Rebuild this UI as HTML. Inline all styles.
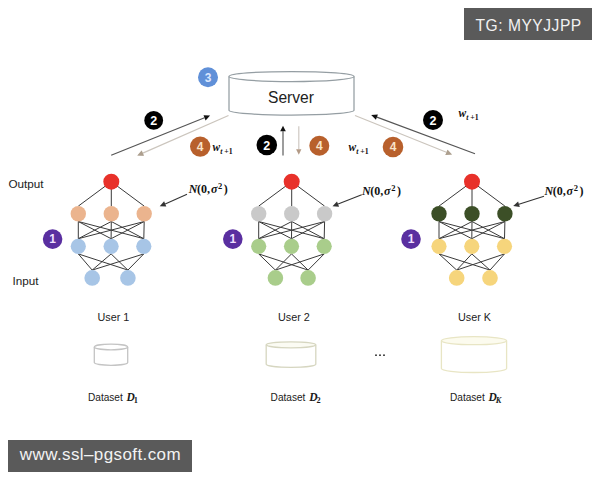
<!DOCTYPE html>
<html><head><meta charset="utf-8"><style>
html,body{margin:0;padding:0;background:#fff;}
body{width:600px;height:480px;position:relative;overflow:hidden;font-family:"Liberation Sans",sans-serif;}
svg{position:absolute;left:0;top:0;}

.wm{position:absolute;background:#5a5a5a;color:#f2f2f2;font-family:"Liberation Sans",sans-serif;white-space:nowrap;}
</style></head><body>
<svg width="600" height="480" viewBox="0 0 600 480" font-family="Liberation Sans">
<path d="M229.0,76.5 L229.0,110.2 A62.5,5.0 0 0 0 354.0,110.2 L354.0,76.5" fill="#fff" stroke="#959ea3" stroke-width="1.25"/><ellipse cx="291.5" cy="76.5" rx="62.5" ry="5.0" fill="#fff" stroke="#959ea3" stroke-width="1.25"/><line x1="111.2" y1="155.3" x2="204.5" y2="117.8" stroke="#555" stroke-width="1.2"/><polygon points="210.1,115.6 205.6,120.4 203.5,115.2" fill="#111"/><line x1="228.5" y1="115.5" x2="142.8" y2="153.1" stroke="#cbc5bd" stroke-width="1.2"/><polygon points="137.3,155.5 141.7,150.5 143.9,155.7" fill="#cbc5bd"/><polygon points="137.3,155.5 141.7,150.5 143.9,155.7" fill="#ad9f8e"/><line x1="283.0" y1="155.5" x2="283.0" y2="131.3" stroke="#7c7c7c" stroke-width="1.5"/><polygon points="283.0,125.8 285.8,131.3 280.2,131.3" fill="#111"/><line x1="298.8" y1="126.2" x2="298.8" y2="149.3" stroke="#cfc8c2" stroke-width="1.2"/><polygon points="298.8,154.8 296.1,149.3 301.4,149.3" fill="#b39a86"/><line x1="475.0" y1="153.8" x2="376.9" y2="117.1" stroke="#555" stroke-width="1.2"/><polygon points="371.2,115.0 377.9,114.5 375.9,119.7" fill="#111"/><line x1="355.0" y1="115.5" x2="446.4" y2="152.3" stroke="#cbc5bd" stroke-width="1.2"/><polygon points="452.0,154.5 445.4,154.9 447.5,149.7" fill="#cbc5bd"/><polygon points="452.0,154.5 445.4,154.9 447.5,149.7" fill="#ad9f8e"/><line x1="111.3" y1="181.7" x2="78.3" y2="206.1" stroke="#3a3a3a" stroke-width="1"/><line x1="111.3" y1="181.7" x2="111.3" y2="206.1" stroke="#3a3a3a" stroke-width="1"/><line x1="111.3" y1="181.7" x2="144.2" y2="206.1" stroke="#3a3a3a" stroke-width="1"/><line x1="78.3" y1="221.5" x2="78.3" y2="238.7" stroke="#3a3a3a" stroke-width="1"/><line x1="78.3" y1="221.5" x2="111.1" y2="238.7" stroke="#3a3a3a" stroke-width="1"/><line x1="78.3" y1="221.5" x2="143.8" y2="238.7" stroke="#3a3a3a" stroke-width="1"/><line x1="111.3" y1="221.5" x2="78.3" y2="238.7" stroke="#3a3a3a" stroke-width="1"/><line x1="111.3" y1="221.5" x2="111.1" y2="238.7" stroke="#3a3a3a" stroke-width="1"/><line x1="111.3" y1="221.5" x2="143.8" y2="238.7" stroke="#3a3a3a" stroke-width="1"/><line x1="144.2" y1="221.5" x2="78.3" y2="238.7" stroke="#3a3a3a" stroke-width="1"/><line x1="144.2" y1="221.5" x2="111.1" y2="238.7" stroke="#3a3a3a" stroke-width="1"/><line x1="144.2" y1="221.5" x2="143.8" y2="238.7" stroke="#3a3a3a" stroke-width="1"/><line x1="78.3" y1="253.9" x2="92.2" y2="270.1" stroke="#3a3a3a" stroke-width="1"/><line x1="78.3" y1="253.9" x2="127.9" y2="270.1" stroke="#3a3a3a" stroke-width="1"/><line x1="111.1" y1="253.9" x2="92.2" y2="270.1" stroke="#3a3a3a" stroke-width="1"/><line x1="111.1" y1="253.9" x2="127.9" y2="270.1" stroke="#3a3a3a" stroke-width="1"/><line x1="143.8" y1="253.9" x2="92.2" y2="270.1" stroke="#3a3a3a" stroke-width="1"/><line x1="143.8" y1="253.9" x2="127.9" y2="270.1" stroke="#3a3a3a" stroke-width="1"/><circle cx="111.3" cy="181.7" r="8.0" fill="#e8312a"/><circle cx="78.3" cy="213.8" r="7.7" fill="#ebb48e"/><circle cx="111.3" cy="213.8" r="7.7" fill="#ebb48e"/><circle cx="144.2" cy="213.8" r="7.7" fill="#ebb48e"/><circle cx="78.3" cy="246.3" r="7.6" fill="#a7c5e6"/><circle cx="111.1" cy="246.3" r="7.6" fill="#a7c5e6"/><circle cx="143.8" cy="246.3" r="7.6" fill="#a7c5e6"/><circle cx="92.2" cy="277.9" r="7.8" fill="#a7c5e6"/><circle cx="127.9" cy="277.9" r="7.8" fill="#a7c5e6"/><line x1="291.7" y1="181.7" x2="258.7" y2="206.1" stroke="#3a3a3a" stroke-width="1"/><line x1="291.7" y1="181.7" x2="291.7" y2="206.1" stroke="#3a3a3a" stroke-width="1"/><line x1="291.7" y1="181.7" x2="324.6" y2="206.1" stroke="#3a3a3a" stroke-width="1"/><line x1="258.7" y1="221.5" x2="258.7" y2="238.7" stroke="#3a3a3a" stroke-width="1"/><line x1="258.7" y1="221.5" x2="291.5" y2="238.7" stroke="#3a3a3a" stroke-width="1"/><line x1="258.7" y1="221.5" x2="324.2" y2="238.7" stroke="#3a3a3a" stroke-width="1"/><line x1="291.7" y1="221.5" x2="258.7" y2="238.7" stroke="#3a3a3a" stroke-width="1"/><line x1="291.7" y1="221.5" x2="291.5" y2="238.7" stroke="#3a3a3a" stroke-width="1"/><line x1="291.7" y1="221.5" x2="324.2" y2="238.7" stroke="#3a3a3a" stroke-width="1"/><line x1="324.6" y1="221.5" x2="258.7" y2="238.7" stroke="#3a3a3a" stroke-width="1"/><line x1="324.6" y1="221.5" x2="291.5" y2="238.7" stroke="#3a3a3a" stroke-width="1"/><line x1="324.6" y1="221.5" x2="324.2" y2="238.7" stroke="#3a3a3a" stroke-width="1"/><line x1="258.7" y1="253.9" x2="275.4" y2="270.1" stroke="#3a3a3a" stroke-width="1"/><line x1="258.7" y1="253.9" x2="308.1" y2="270.1" stroke="#3a3a3a" stroke-width="1"/><line x1="291.5" y1="253.9" x2="275.4" y2="270.1" stroke="#3a3a3a" stroke-width="1"/><line x1="291.5" y1="253.9" x2="308.1" y2="270.1" stroke="#3a3a3a" stroke-width="1"/><line x1="324.2" y1="253.9" x2="275.4" y2="270.1" stroke="#3a3a3a" stroke-width="1"/><line x1="324.2" y1="253.9" x2="308.1" y2="270.1" stroke="#3a3a3a" stroke-width="1"/><circle cx="291.7" cy="181.7" r="8.0" fill="#e8312a"/><circle cx="258.7" cy="213.8" r="7.7" fill="#c9c9c9"/><circle cx="291.7" cy="213.8" r="7.7" fill="#c9c9c9"/><circle cx="324.6" cy="213.8" r="7.7" fill="#c9c9c9"/><circle cx="258.7" cy="246.3" r="7.6" fill="#a9cd8b"/><circle cx="291.5" cy="246.3" r="7.6" fill="#a9cd8b"/><circle cx="324.2" cy="246.3" r="7.6" fill="#a9cd8b"/><circle cx="275.4" cy="277.9" r="7.8" fill="#a9cd8b"/><circle cx="308.1" cy="277.9" r="7.8" fill="#a9cd8b"/><line x1="472.0" y1="181.7" x2="439.0" y2="206.1" stroke="#3a3a3a" stroke-width="1"/><line x1="472.0" y1="181.7" x2="472.0" y2="206.1" stroke="#3a3a3a" stroke-width="1"/><line x1="472.0" y1="181.7" x2="504.9" y2="206.1" stroke="#3a3a3a" stroke-width="1"/><line x1="439.0" y1="221.5" x2="439.0" y2="238.7" stroke="#3a3a3a" stroke-width="1"/><line x1="439.0" y1="221.5" x2="471.8" y2="238.7" stroke="#3a3a3a" stroke-width="1"/><line x1="439.0" y1="221.5" x2="504.5" y2="238.7" stroke="#3a3a3a" stroke-width="1"/><line x1="472.0" y1="221.5" x2="439.0" y2="238.7" stroke="#3a3a3a" stroke-width="1"/><line x1="472.0" y1="221.5" x2="471.8" y2="238.7" stroke="#3a3a3a" stroke-width="1"/><line x1="472.0" y1="221.5" x2="504.5" y2="238.7" stroke="#3a3a3a" stroke-width="1"/><line x1="504.9" y1="221.5" x2="439.0" y2="238.7" stroke="#3a3a3a" stroke-width="1"/><line x1="504.9" y1="221.5" x2="471.8" y2="238.7" stroke="#3a3a3a" stroke-width="1"/><line x1="504.9" y1="221.5" x2="504.5" y2="238.7" stroke="#3a3a3a" stroke-width="1"/><line x1="439.0" y1="253.9" x2="456.7" y2="270.1" stroke="#3a3a3a" stroke-width="1"/><line x1="439.0" y1="253.9" x2="490.0" y2="270.1" stroke="#3a3a3a" stroke-width="1"/><line x1="471.8" y1="253.9" x2="456.7" y2="270.1" stroke="#3a3a3a" stroke-width="1"/><line x1="471.8" y1="253.9" x2="490.0" y2="270.1" stroke="#3a3a3a" stroke-width="1"/><line x1="504.5" y1="253.9" x2="456.7" y2="270.1" stroke="#3a3a3a" stroke-width="1"/><line x1="504.5" y1="253.9" x2="490.0" y2="270.1" stroke="#3a3a3a" stroke-width="1"/><circle cx="472.0" cy="181.7" r="8.0" fill="#e8312a"/><circle cx="439.0" cy="213.8" r="7.7" fill="#3c4f27"/><circle cx="472.0" cy="213.8" r="7.7" fill="#3c4f27"/><circle cx="504.9" cy="213.8" r="7.7" fill="#3c4f27"/><circle cx="439.0" cy="246.3" r="7.6" fill="#f6d57c"/><circle cx="471.8" cy="246.3" r="7.6" fill="#f6d57c"/><circle cx="504.5" cy="246.3" r="7.6" fill="#f6d57c"/><circle cx="456.7" cy="277.9" r="7.8" fill="#f6d57c"/><circle cx="490.0" cy="277.9" r="7.8" fill="#f6d57c"/><line x1="187.0" y1="194.2" x2="165.2" y2="203.9" stroke="#333" stroke-width="1.1"/><polygon points="159.7,206.3 164.1,201.3 166.3,206.4" fill="#333"/><line x1="361.7" y1="194.7" x2="338.1" y2="204.1" stroke="#333" stroke-width="1.1"/><polygon points="332.5,206.3 337.0,201.5 339.1,206.7" fill="#333"/><line x1="544.0" y1="196.2" x2="518.9" y2="204.2" stroke="#333" stroke-width="1.1"/><polygon points="513.2,206.0 518.1,201.5 519.8,206.9" fill="#333"/><circle cx="208.0" cy="77.3" r="10.0" fill="#6090d8"/><text x="208.0" y="81.7" font-size="12" fill="#dce8ff" text-anchor="middle" font-weight="bold">3</text><circle cx="153.7" cy="120.4" r="9.4" fill="#000"/><text x="153.7" y="124.9" font-size="12.5" fill="#fff" text-anchor="middle" font-weight="bold">2</text><circle cx="266.8" cy="145.0" r="10.3" fill="#000"/><text x="266.8" y="149.5" font-size="12.5" fill="#fff" text-anchor="middle" font-weight="bold">2</text><circle cx="433.0" cy="120.0" r="10.0" fill="#000"/><text x="433.0" y="124.5" font-size="12.5" fill="#fff" text-anchor="middle" font-weight="bold">2</text><circle cx="200.2" cy="146.6" r="10.2" fill="#b8602c"/><text x="200.2" y="150.9" font-size="12" fill="#f8e4c8" text-anchor="middle" font-weight="bold">4</text><circle cx="319.3" cy="145.8" r="10.0" fill="#b8602c"/><text x="319.3" y="150.1" font-size="12" fill="#f8e4c8" text-anchor="middle" font-weight="bold">4</text><circle cx="393.0" cy="147.0" r="10.3" fill="#b8602c"/><text x="393.0" y="151.3" font-size="12" fill="#f8e4c8" text-anchor="middle" font-weight="bold">4</text><circle cx="52.6" cy="239.1" r="9.8" fill="#5a2fa0"/><text x="52.6" y="243.4" font-size="12" fill="#f0e0ff" text-anchor="middle" font-weight="bold">1</text><circle cx="232.8" cy="239.1" r="9.8" fill="#5a2fa0"/><text x="232.8" y="243.4" font-size="12" fill="#f0e0ff" text-anchor="middle" font-weight="bold">1</text><circle cx="411.0" cy="239.1" r="9.8" fill="#5a2fa0"/><text x="411.0" y="243.4" font-size="12" fill="#f0e0ff" text-anchor="middle" font-weight="bold">1</text><path d="M94.3,347.0 L94.3,362.5 A16.65,2.8 0 0 0 127.7,362.5 L127.7,347.0" fill="#fff" stroke="#c4c4c4" stroke-width="1.3"/><ellipse cx="111.0" cy="347.0" rx="16.65" ry="2.8" fill="#fff" stroke="#c4c4c4" stroke-width="1.3"/><path d="M266.2,344.8 L266.2,364.3 A24.75,3 0 0 0 315.8,364.3 L315.8,344.8" fill="#fff" stroke="#d6d6c0" stroke-width="1.3"/><ellipse cx="291.0" cy="344.8" rx="24.75" ry="3" fill="#fbfbf3" stroke="#d6d6c0" stroke-width="1.3"/><path d="M441.4,340.7 L441.4,368.5 A32.6,4 0 0 0 506.6,368.5 L506.6,340.7" fill="#fff" stroke="#e8e5c4" stroke-width="1.3"/><ellipse cx="474.0" cy="340.7" rx="32.6" ry="4" fill="#fcfbee" stroke="#e8e5c4" stroke-width="1.3"/>
<text x="8.5" y="188" font-size="11.7" fill="#222">Output</text><text x="12.5" y="285.3" font-size="11.7" fill="#222">Input</text><text x="268" y="103" font-size="15.6" fill="#222">Server</text><text x="97.5" y="320.5" font-size="10.8" fill="#222">User 1</text><text x="278" y="320.5" font-size="10.8" fill="#222">User 2</text><text x="458" y="320.5" font-size="10.8" fill="#222">User K</text><circle cx="376" cy="355.2" r="0.9" fill="#222"/><circle cx="380" cy="355.2" r="0.9" fill="#222"/><circle cx="384" cy="355.2" r="0.9" fill="#222"/><text x="88" y="400.9" font-size="10.1" fill="#222">Dataset</text><text x="126.6" y="400.9" font-family="Liberation Serif" font-style="italic" font-weight="bold" font-size="11.5" fill="#1a1a1a">D</text><text x="133.8" y="403.4" font-family="Liberation Serif" font-weight="bold" font-size="8.3" fill="#1a1a1a">1</text><text x="270.6" y="400.7" font-size="10.1" fill="#222">Dataset</text><text x="309.20000000000005" y="400.7" font-family="Liberation Serif" font-style="italic" font-weight="bold" font-size="11.5" fill="#1a1a1a">D</text><text x="316.40000000000003" y="403.2" font-family="Liberation Serif" font-weight="bold" font-size="8.3" fill="#1a1a1a">2</text><text x="450" y="400.7" font-size="10.1" fill="#222">Dataset</text><text x="488.6" y="400.7" font-family="Liberation Serif" font-style="italic" font-weight="bold" font-size="11.5" fill="#1a1a1a">D</text><text x="495.8" y="403.2" font-family="Liberation Serif" font-style="italic" font-weight="bold" font-size="8.3" fill="#1a1a1a">K</text><text x="212.5" y="150.5" font-family="Liberation Serif" font-style="italic" font-weight="bold" font-size="11.5" fill="#111">w</text><text x="220.3" y="153.5" font-family="Liberation Serif" font-style="italic" font-weight="bold" font-size="7.8" fill="#111">t</text><text x="224.3" y="153.5" font-family="Liberation Serif" font-weight="bold" font-size="7.8" fill="#111">+1</text><text x="348.5" y="150.5" font-family="Liberation Serif" font-style="italic" font-weight="bold" font-size="11.5" fill="#111">w</text><text x="356.3" y="153.5" font-family="Liberation Serif" font-style="italic" font-weight="bold" font-size="7.8" fill="#111">t</text><text x="360.3" y="153.5" font-family="Liberation Serif" font-weight="bold" font-size="7.8" fill="#111">+1</text><text x="458.5" y="117" font-family="Liberation Serif" font-style="italic" font-weight="bold" font-size="11.5" fill="#111">w</text><text x="466.3" y="120" font-family="Liberation Serif" font-style="italic" font-weight="bold" font-size="7.8" fill="#111">t</text><text x="470.3" y="120" font-family="Liberation Serif" font-weight="bold" font-size="7.8" fill="#111">+1</text><text x="188.8" y="192.8" font-family="Liberation Serif" font-size="12" fill="#111" font-weight="bold"><tspan font-style="italic">N</tspan><tspan x="197.0">(0,</tspan><tspan x="210.9" font-style="italic">σ</tspan><tspan x="218.10000000000002" dy="-4" font-size="8.5">2</tspan><tspan x="223.8" dy="4">)</tspan></text><text x="362" y="195" font-family="Liberation Serif" font-size="12" fill="#111" font-weight="bold"><tspan font-style="italic">N</tspan><tspan x="370.2">(0,</tspan><tspan x="384.1" font-style="italic">σ</tspan><tspan x="391.3" dy="-4" font-size="8.5">2</tspan><tspan x="397" dy="4">)</tspan></text><text x="544.5" y="195" font-family="Liberation Serif" font-size="12" fill="#111" font-weight="bold"><tspan font-style="italic">N</tspan><tspan x="552.7">(0,</tspan><tspan x="566.6" font-style="italic">σ</tspan><tspan x="573.8" dy="-4" font-size="8.5">2</tspan><tspan x="579.5" dy="4">)</tspan></text>
</svg>
<div class="wm" style="left:464px;top:8px;width:128px;height:32px;"></div>
<div class="wm" style="left:8px;top:440px;width:184px;height:32px;"></div>
<svg width="600" height="480" viewBox="0 0 600 480" font-family="Liberation Sans">
<text x="475.5" y="30.5" font-size="15.6" letter-spacing="0.52" fill="#f2f2f2">TG: MYYJJPP</text>
<text x="19.8" y="460" font-size="17" letter-spacing="0.4" fill="#f2f2f2">www.ssl–pgsoft.com</text>
</svg>
</body></html>
